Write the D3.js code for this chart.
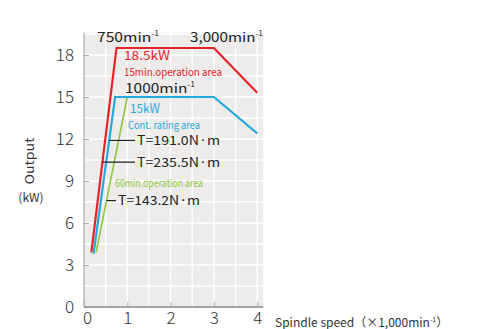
<!DOCTYPE html>
<html>
<head>
<meta charset="utf-8">
<script src="https://cdn.jsdelivr.net/npm/d3@7/dist/d3.min.js"></script>
<style>
  body { margin: 0; background: #fff; }
  svg text { font-family: "Noto Sans CJK JP", "Noto Sans", sans-serif; }
</style>
</head>
<body>
<div id="chart"></div>
<script>
// Output vs spindle speed (x1,000 min-1)
var speed15 = [0.17, 0.75, 3.0, 4.0];
var out15   = [3.9, 18.5, 18.5, 15.3];
var speedCont = [0.22, 0.72, 3.0, 4.0];
var outCont   = [3.8, 15.0, 15.0, 12.4];
var speed60 = [0.28, 1.0];
var out60   = [3.9, 15.0];

var xTicks = [0, 1, 2, 3, 4];
var yTicks = [0, 3, 6, 9, 12, 15, 18];

// torque annotations: output level where leader touches the curve
var torqueLabels = ["T=191.0N·m", "T=235.5N·m", "T=143.2N·m"];
var torqueLevels = [11.9, 10.35, 7.6];
var torqueSeries = ["cont", "15min", "60min"];

var W = 494, H = 329;
var x = d3.scaleLinear().domain([0, 4]).range([84, 257.2]);
var y = d3.scaleLinear().domain([0, 18]).range([307, 55]);

var colors = { "15min": "#e62329", "cont": "#25a9dd", "60min": "#8dc63f" };

var svg = d3.select("#chart").append("svg").attr("width", W).attr("height", H);

// plot background
svg.append("rect")
    .attr("x", x(0)).attr("y", y(19.6))
    .attr("width", x(4.14) - x(0)).attr("height", y(0) - y(19.6))
    .attr("fill", "#eeecea");

// white grid
var g = svg.append("g").attr("class", "grid");
d3.range(0.5, 4.01, 0.5).forEach(function (v) {
    g.append("line").attr("x1", x(v)).attr("x2", x(v)).attr("y1", y(0)).attr("y2", y(19.6))
        .attr("stroke", "#fff").attr("stroke-width", 1.3);
});
d3.range(1.5, 19.6, 1.5).forEach(function (v) {
    g.append("line").attr("x1", x(0)).attr("x2", x(4.14)).attr("y1", y(v)).attr("y2", y(v))
        .attr("stroke", "#fff").attr("stroke-width", 1.3);
});

// axes
var yAxis = d3.axisLeft(y).tickValues(yTicks).tickSize(-5).tickPadding(10).tickFormat(d3.format("d"));
var xAxis = d3.axisBottom(x).tickValues(xTicks).tickSize(-5).tickPadding(5).tickFormat(d3.format("d"));

var gy = svg.append("g").attr("transform", "translate(" + x(0) + ",0)").call(yAxis);
gy.select(".domain").attr("d", "M0," + y(19.6) + "V" + y(0)).attr("stroke", "#9a9a9a");
gy.selectAll(".tick line").attr("stroke", "#aaa");
gy.selectAll(".tick text").attr("font-size", 17).attr("fill", "#333").attr("font-weight", 300);

var gx = svg.append("g").attr("transform", "translate(0," + y(0) + ")").call(xAxis);
gx.select(".domain").attr("d", "M" + x(0) + ",0H" + x(4.14)).attr("stroke", "#8a8a8a").attr("stroke-width", 1.5);
gx.selectAll(".tick line").attr("stroke", "#aaa");
gx.selectAll(".tick text").attr("font-size", 17).attr("fill", "#333").attr("font-weight", 300)
    .attr("dx", function (d) { return d === 0 ? 3 : 0; });

// curves
var line = d3.line().x(function (d) { return x(d[0]); }).y(function (d) { return y(d[1]); });
function pts(xs, ys) { return xs.map(function (v, i) { return [v, ys[i]]; }); }
var series = {
    "60min": pts(speed60, out60),
    "cont": pts(speedCont, outCont),
    "15min": pts(speed15, out15)
};
Object.keys(series).forEach(function (k) {
    svg.append("path").datum(series[k]).attr("d", line)
        .attr("fill", "none").attr("stroke", colors[k])
        .attr("stroke-width", k === "60min" ? 1.6 : 2.2)
        .attr("stroke-linejoin", "miter");
});

// speed on the rising part of a curve for a given output
function speedAt(k, level) {
    var p = series[k];
    return p[0][0] + (level - p[0][1]) / (p[1][1] - p[0][1]) * (p[1][0] - p[0][0]);
}

// text helper
function label(px, py, txt, size, color, len, sup) {
    var t = svg.append("text").attr("x", px).attr("y", py)
        .attr("font-size", size).attr("fill", color);
    t.append("tspan").text(txt);
    if (sup) t.append("tspan").attr("font-size", size * 0.55).attr("dy", -size * 0.45).text(sup);
    if (len) t.attr("textLength", len).attr("lengthAdjust", "spacingAndGlyphs");
    return t;
}

label(97, 42, "750min", 13, "#222", 62, "-1");
label(190, 42, "3,000min", 13, "#222", 73, "-1");
label(124, 59.5, "18.5kW", 12.5, colors["15min"], 46);
label(124, 76, "15min.operation area", 10.5, colors["15min"], 98);
label(125, 93, "1000min", 13, "#222", 70, "-1");
label(130, 112.5, "15kW", 12.5, colors["cont"], 30);
label(128, 128.5, "Cont. rating area", 10.5, colors["cont"], 72);
label(115, 186.5, "60min.operation area", 10, colors["60min"], 88);

// torque leaders
var torqueTextX = [137, 137, 118];
torqueLabels.forEach(function (txt, i) {
    var lv = torqueLevels[i];
    var x0 = x(speedAt(torqueSeries[i], lv));
    svg.append("line").attr("x1", x0).attr("x2", torqueTextX[i] - 2)
        .attr("y1", y(lv)).attr("y2", y(lv))
        .attr("stroke", "#222").attr("stroke-width", 1.2);
    label(torqueTextX[i], y(lv) + 4.5, txt, 12.5, "#222", i === 2 ? 82 : 83);
});

// axis titles
svg.append("text").attr("transform", "translate(34,161) rotate(-90)")
    .attr("text-anchor", "middle").attr("font-size", 12).attr("fill", "#333")
    .attr("textLength", 47).attr("lengthAdjust", "spacingAndGlyphs").text("Output");
svg.append("text").attr("x", 31).attr("y", 202).attr("text-anchor", "middle")
    .attr("font-size", 12).attr("fill", "#333").text("(kW)");

var xt = svg.append("text").attr("x", 275).attr("y", 327).attr("font-size", 12).attr("fill", "#333");
xt.append("tspan").text("Spindle speed（×1,000min");
xt.append("tspan").attr("font-size", 7).attr("dy", -5).text("-1");
xt.append("tspan").attr("dy", 5).text("）");
</script>
</body>
</html>
